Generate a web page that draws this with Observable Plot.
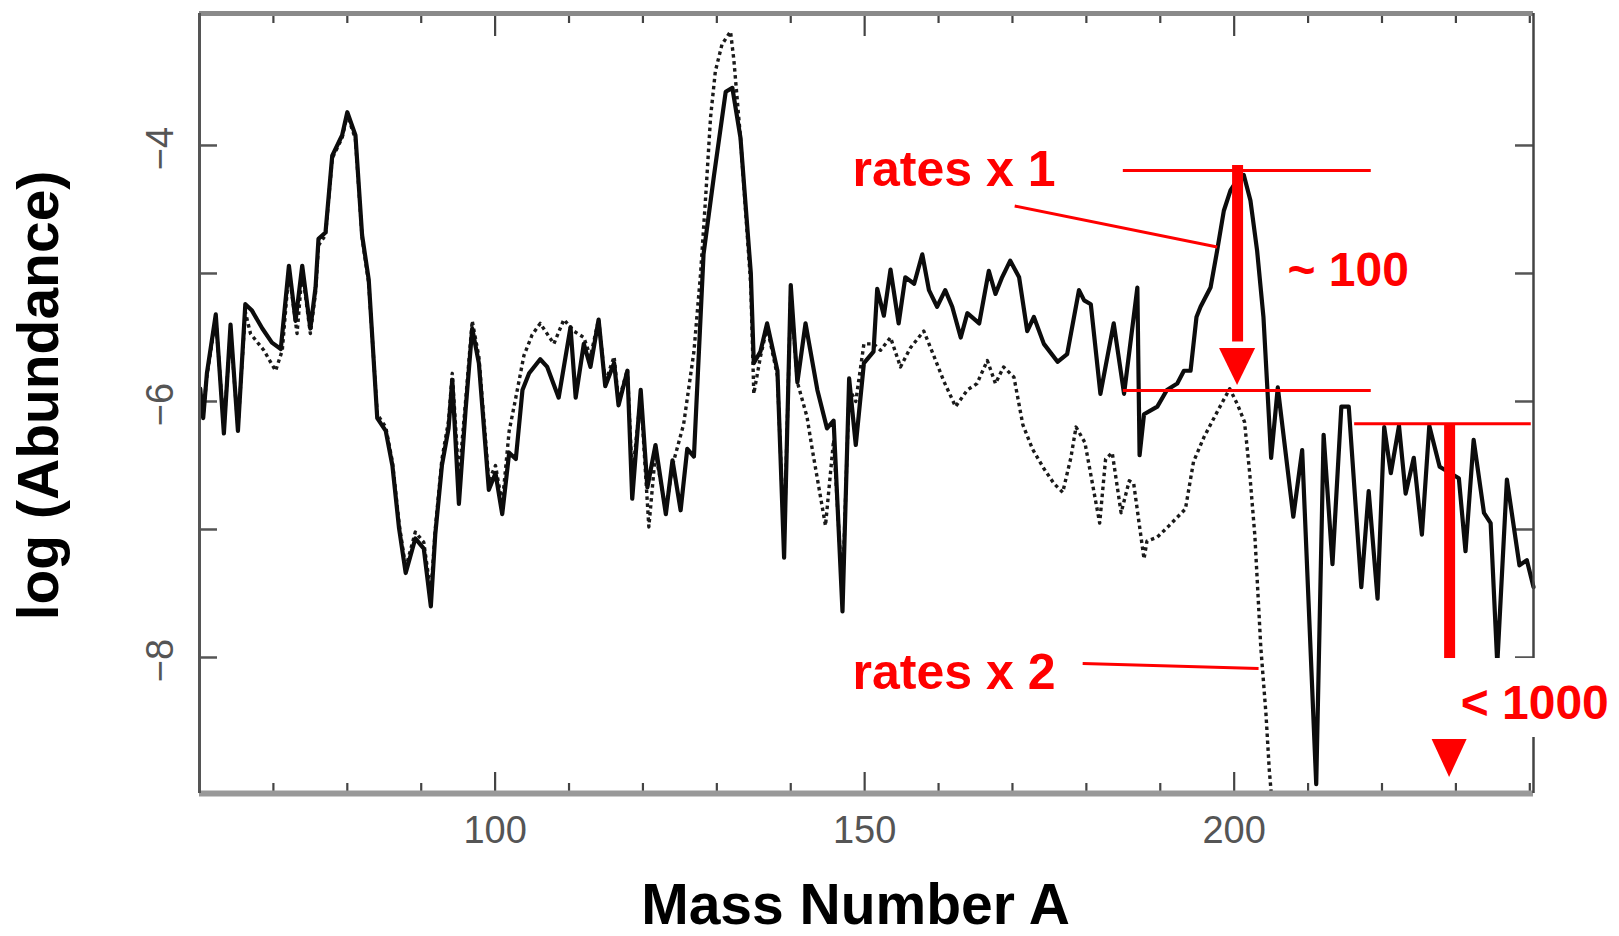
<!DOCTYPE html>
<html>
<head>
<meta charset="utf-8">
<script src="https://cdn.jsdelivr.net/npm/d3@7"></script>
<script src="https://cdn.jsdelivr.net/npm/@observablehq/plot@0.6"></script>
<style>
html, body { margin: 0; padding: 0; background: #fff; }
#chart svg { display: block; }
</style>
</head>
<body>
<div id="chart"></div>
<script>
// ---- data: rates x 1 (solid) ----
const massSolid = [60.1,60.5,61.0,62.2,63.3,64.2,65.2,66.2,67.1,68.5,69.8,71.0,72.1,73.0,73.9,75.0,75.7,76.1,77.05,77.96,79.3,80.0,81.1,82.0,82.9,84.05,85.2,86.1,87.0,87.9,89.2,90.35,91.3,91.9,92.8,93.7,94.2,95.1,96.0,96.9,97.8,99.15,100.05,100.96,101.9,102.8,103.7,104.6,106.1,107.05,108.6,110.2,110.9,112.0,112.9,114.0,114.9,116.1,116.7,117.9,118.55,119.7,120.6,121.7,123.1,124.0,125.1,126.0,126.9,128.2,129.6,131.2,132.1,133.2,134.6,135.0,135.9,136.8,138.2,139.1,140.0,140.9,142.0,143.6,144.9,145.8,147.0,147.9,148.8,149.9,151.2,151.7,152.6,153.5,154.6,155.5,156.7,157.8,158.7,159.8,160.9,161.85,163.0,163.9,165.5,166.8,167.7,168.6,169.7,170.9,172.0,172.9,174.25,176.1,177.4,179.0,179.7,180.6,181.9,183.7,185.1,186.9,187.2,187.8,189.6,190.9,192.3,193.2,194.1,194.9,195.45,196.8,197.7,198.6,199.5,200.4,201.3,202.2,203.1,203.96,204.5,205.0,205.9,208.0,209.2,211.1,212.1,213.3,214.5,215.5,217.2,218.2,219.4,220.3,221.2,222.3,223.2,224.3,225.4,226.4,227.8,230.4,231.3,232.4,233.8,234.7,235.6,236.9,238.6,239.6,240.5];
const logSolid = [-5.9,-6.13,-5.78,-5.32,-6.25,-5.40,-6.23,-5.24,-5.29,-5.43,-5.54,-5.59,-4.94,-5.37,-4.94,-5.43,-5.11,-4.73,-4.68,-4.08,-3.92,-3.74,-3.92,-4.70,-5.05,-6.13,-6.23,-6.50,-6.99,-7.34,-7.07,-7.15,-7.60,-7.04,-6.50,-6.21,-5.83,-6.80,-6.07,-5.43,-5.70,-6.69,-6.56,-6.88,-6.40,-6.45,-5.91,-5.78,-5.67,-5.73,-5.97,-5.42,-5.97,-5.55,-5.73,-5.36,-5.88,-5.70,-6.03,-5.76,-6.76,-5.91,-6.67,-6.34,-6.88,-6.46,-6.85,-6.37,-6.43,-4.85,-4.24,-3.58,-3.55,-3.94,-5.00,-5.70,-5.61,-5.39,-5.76,-7.22,-5.09,-5.85,-5.39,-5.91,-6.21,-6.15,-7.64,-5.82,-6.34,-5.70,-5.61,-5.12,-5.33,-4.97,-5.39,-5.03,-5.08,-4.85,-5.13,-5.26,-5.13,-5.26,-5.50,-5.31,-5.39,-4.98,-5.16,-5.03,-4.90,-5.03,-5.45,-5.34,-5.55,-5.69,-5.63,-5.13,-5.21,-5.24,-5.94,-5.39,-5.94,-5.11,-6.42,-6.10,-6.04,-5.91,-5.86,-5.76,-5.76,-5.34,-5.26,-5.11,-4.82,-4.51,-4.35,-4.27,-4.23,-4.43,-4.82,-5.34,-5.91,-6.44,-5.89,-6.90,-6.38,-8.99,-6.26,-7.27,-6.04,-6.04,-7.45,-6.70,-7.54,-6.20,-6.56,-6.19,-6.72,-6.44,-7.04,-6.19,-6.51,-6.60,-7.17,-6.30,-6.87,-6.95,-8.05,-6.61,-7.28,-7.24,-7.45];

// ---- data: rates x 2 (dotted) ----
const massDotted = [60.1,60.5,61.0,62.2,63.3,64.2,65.2,66.2,66.9,68.7,70.3,71.2,72.1,73.2,73.9,75.0,75.7,76.1,77.05,77.96,79.3,80.0,81.1,82.0,82.9,84.05,85.2,86.1,87.0,87.9,89.2,90.35,91.3,91.9,92.8,93.7,94.2,95.1,96.0,96.9,97.8,99.15,100.05,100.96,101.9,102.8,103.9,105.0,106.1,107.95,109.3,110.65,112.0,112.9,114.0,114.9,116.1,116.7,117.9,118.55,119.7,120.8,121.7,123.1,124.0,125.5,126.9,127.8,128.5,129.15,129.8,130.7,131.85,132.3,133.2,134.6,135.0,135.9,136.8,138.2,139.1,140.0,140.9,142.2,142.9,143.8,144.7,145.8,147.0,147.9,148.8,149.9,151.2,152.15,153.5,154.85,156.2,158.0,159.4,160.7,162.3,163.9,165.2,166.6,167.7,168.8,170.2,171.4,172.7,174.2,175.6,176.8,177.9,178.6,179.8,181.8,182.6,183.5,184.7,185.8,186.4,187.8,188.2,189.6,191.2,193.4,194.5,195.9,197.8,199.4,200.5,201.4,202.1,202.8,203.6,204.3,204.75,205.0];
const logDotted = [-5.95,-6.10,-5.80,-5.35,-6.20,-5.45,-6.20,-5.30,-5.47,-5.60,-5.76,-5.60,-4.98,-5.47,-4.98,-5.47,-5.15,-4.78,-4.70,-4.10,-3.94,-3.76,-3.95,-4.72,-5.08,-6.10,-6.20,-6.47,-6.95,-7.30,-7.02,-7.10,-7.50,-7.00,-6.45,-6.15,-5.78,-6.60,-6.00,-5.37,-5.65,-6.62,-6.50,-6.80,-6.23,-5.97,-5.64,-5.48,-5.39,-5.55,-5.36,-5.45,-5.50,-5.65,-5.36,-5.85,-5.65,-6.00,-5.75,-6.60,-5.95,-6.98,-6.40,-6.85,-6.50,-6.18,-5.61,-5.00,-4.39,-3.78,-3.42,-3.21,-3.11,-3.33,-3.94,-5.10,-5.94,-5.65,-5.42,-5.80,-7.10,-5.15,-5.85,-6.12,-6.37,-6.67,-6.97,-6.30,-7.50,-5.90,-6.00,-5.55,-5.55,-5.60,-5.50,-5.73,-5.58,-5.45,-5.65,-5.84,-6.04,-5.91,-5.86,-5.68,-5.86,-5.73,-5.81,-6.18,-6.37,-6.52,-6.64,-6.71,-6.44,-6.20,-6.32,-6.95,-6.45,-6.40,-6.87,-6.62,-6.64,-7.23,-7.09,-7.06,-6.97,-6.84,-6.47,-6.28,-6.07,-5.90,-6.03,-6.16,-6.56,-7.05,-7.92,-8.44,-8.88,-9.05];

// ---- axes ----
const xDomain = [60, 240.5];
const yDomain = [-9.0625, -2.969];
const xTickLabels = [100, 150, 200];
const xTicksMinor = [70, 80, 90, 110, 120, 130, 140, 160, 170, 180, 190, 210, 220, 230, 240];
const xTicksMajor = [100, 150, 200];
const yTicks = [-4, -5, -6, -7, -8];
const yTickLabels = [-4, -6, -8];
const xTitle = "Mass Number A";
const yTitle = "log (Abundance)";

// ---- red annotations (in data units: A, log abundance) ----
const levelLines = [
  {a1: 185.0, a2: 218.55, v: -4.195},
  {a1: 185.0, a2: 218.55, v: -5.914},
  {a1: 216.3, a2: 240.2, v: -6.174}
];
const leaderLines = [
  {a1: 170.3, v1: -4.473, a2: 197.7, v2: -4.793},
  {a1: 179.5, v1: -8.047, a2: 203.3, v2: -8.086}
];
const arrows = [
  {id: 1, a: 200.46, top: -4.156, headTop: -5.586, tip: -5.875, half: 2.44},
  {id: 2, a: 229.15, top: -6.172, headTop: -8.64, tip: -8.9375, half: 2.37}
];
const labelBox = [{a1: 225.2, a2: 253, v1: -8.008, v2: -8.625}];
const redLabels = [
  {a: 148.36, v: -4.32, text: "rates x 1", size: 50},
  {a: 148.36, v: -8.25, text: "rates x 2", size: 50},
  {a: 207.2, v: -5.10, text: "~ 100", size: 48},
  {a: 230.64, v: -8.477, text: "< 1000", size: 48}
];

// ---- build ----
const W = 1619, H = 936;
const mL = 199, mR = 86, mT = 13, mB = 143;
const plotW = W - mL - mR, plotH = H - mT - mB;

const solid = massSolid.map((a, i) => ({a, v: logSolid[i]}));
const dotted = massDotted.map((a, i) => ({a, v: logDotted[i]}));
const heads = arrows.flatMap(d => [
  {id: d.id, x: d.a - d.half, y1: d.headTop, y2: d.headTop},
  {id: d.id, x: d.a, y1: d.headTop, y2: d.tip},
  {id: d.id, x: d.a + d.half, y1: d.headTop, y2: d.headTop}
]);

const chart = Plot.plot({
  width: W, height: H,
  marginLeft: mL, marginRight: mR, marginTop: mT, marginBottom: mB,
  x: {domain: xDomain, axis: null},
  y: {domain: yDomain, axis: null},
  style: {fontFamily: "'Liberation Sans', Arial, Helvetica, sans-serif", background: "#fff", overflow: "visible"},
  marks: [
    // inward ticks
    Plot.ruleX(xTicksMinor, {x: d => d, insetTop: plotH - 10, stroke: "#444", strokeWidth: 2.2}),
    Plot.ruleX(xTicksMajor, {x: d => d, insetTop: plotH - 21, stroke: "#444", strokeWidth: 2.2}),
    Plot.ruleX(xTicksMinor, {x: d => d, insetBottom: plotH - 10, stroke: "#444", strokeWidth: 2.2}),
    Plot.ruleX(xTicksMajor, {x: d => d, insetBottom: plotH - 23, stroke: "#444", strokeWidth: 2.2}),
    Plot.ruleY(yTicks, {y: d => d, insetRight: plotW - 18, stroke: "#555", strokeWidth: 2.5}),
    Plot.ruleY(yTicks, {y: d => d, insetLeft: plotW - 18, stroke: "#555", strokeWidth: 2.5}),
    // curves
    Plot.line(dotted, {x: "a", y: "v", stroke: "#1a1a1a", strokeWidth: 3.4, strokeDasharray: "3.5,3.5", strokeLinecap: "butt"}),
    Plot.line(solid, {x: "a", y: "v", stroke: "#0c0c0c", strokeWidth: 4.2, strokeLinejoin: "round"}),
    // frame
    Plot.ruleY([yDomain[1]], {y: d => d, stroke: "#8a8a8a", strokeWidth: 5}),
    Plot.ruleY([yDomain[0]], {y: d => d, stroke: "#999", strokeWidth: 6}),
    Plot.ruleX([xDomain[0]], {x: d => d, stroke: "#555", strokeWidth: 3}),
    Plot.ruleX([xDomain[1]], {x: d => d, stroke: "#444", strokeWidth: 2.5}),
    // tick labels
    Plot.text(xTickLabels, {x: d => d, frameAnchor: "bottom", dy: 37, text: d => String(d),
      textAnchor: "middle", lineAnchor: "middle", fontSize: 38, fill: "#555", letterSpacing: 2}),
    Plot.text(yTickLabels, {y: d => d, frameAnchor: "left", dx: -39, dy: 3, rotate: -90,
      text: d => "\u2212" + Math.abs(d), textAnchor: "middle", lineAnchor: "middle",
      fontSize: 38, fill: "#555", letterSpacing: 4}),
    // titles
    Plot.text([xTitle], {frameAnchor: "bottom", dx: -11, dy: 130, textAnchor: "middle", lineAnchor: "bottom",
      fontSize: 57, fontWeight: "bold", fill: "#000"}),
    Plot.text([yTitle], {frameAnchor: "left", dx: -160, dy: -8, rotate: -90, textAnchor: "middle", lineAnchor: "middle",
      fontSize: 57, fontWeight: "bold", fill: "#000"}),
    // red annotations
    Plot.ruleY(levelLines, {y: "v", x1: "a1", x2: "a2", stroke: "#ff0000", strokeWidth: 3}),
    Plot.link(leaderLines, {x1: "a1", y1: "v1", x2: "a2", y2: "v2", stroke: "#ff0000", strokeWidth: 3}),
    Plot.ruleX(arrows, {x: "a", y1: "top", y2: d => d.headTop + 0.05, stroke: "#ff0000", strokeWidth: 11}),
    Plot.areaY(heads, {x: "x", y1: "y1", y2: "y2", z: "id", fill: "#ff0000"}),
    Plot.rect(labelBox, {x1: "a1", x2: "a2", y1: "v1", y2: "v2", fill: "#fff"}),
    Plot.text(redLabels, {x: "a", y: "v", text: "text", fontSize: "size", textAnchor: "start",
      lineAnchor: "bottom", fill: "#ff0000", fontWeight: "bold"})
  ]
});
document.getElementById("chart").appendChild(chart);
</script>
</body>
</html>
